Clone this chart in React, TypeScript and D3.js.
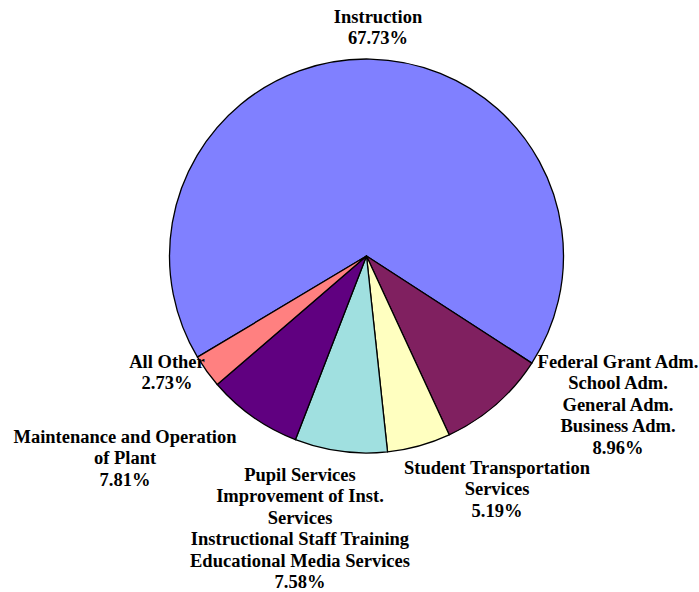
import React from "react";
import * as d3 from "d3";

const categories = [
  "Instruction",
  "Federal Grant Adm.",
  "Student Transportation",
  "Pupil Services",
  "Maintenance and Operation",
  "All Other",
];
const values = [67.73, 8.96, 5.19, 7.58, 7.81, 2.73];
const labelLines = [
  ["Instruction"],
  ["Federal Grant Adm.", "School Adm.", "General Adm.", "Business Adm."],
  ["Student Transportation", "Services"],
  ["Pupil Services", "Improvement of Inst.", "Services", "Instructional Staff Training", "Educational Media Services"],
  ["Maintenance and Operation", "of Plant"],
  ["All Other"],
];
const colors = ["#8080FF", "#802060", "#FFFFC0", "#A0E0E0", "#600080", "#FF8080"];

// label layout: center x, first baseline y (layout only)
const labelPos = [
  [378, 23],
  [618, 368],
  [497, 474],
  [300, 481],
  [125, 443],
  [167, 368],
];

const W = 699;
const H = 592;
const cx = 366.5;
const cy = 256;
const R = 197;
const lineH = 21.4;

export default function App() {
  const start = (-120.9 * Math.PI) / 180;
  const pie = d3
    .pie<number>()
    .sort(null)
    .value((d) => d)
    .startAngle(start)
    .endAngle(start + 2 * Math.PI);
  const arcs = pie(values);
  const arc = d3.arc<d3.PieArcDatum<number>>().innerRadius(0).outerRadius(R);

  return (
    <svg
      width={W}
      height={H}
      style={{ position: "absolute", left: 0, top: 0, background: "#fff" }}
    >
      <g transform={`translate(${cx},${cy})`}>
        {arcs.map((a, i) => (
          <path
            key={i}
            d={arc(a) || ""}
            fill={colors[i]}
            stroke="#000"
            strokeWidth={1.3}
            strokeLinejoin="round"
          />
        ))}
      </g>
      {categories.map((c, i) => {
        const lines = [...labelLines[i], `${values[i].toFixed(2)}%`];
        const [x, y] = labelPos[i];
        return (
          <text
            key={c}
            x={x}
            y={y}
            textAnchor="middle"
            style={{ fontFamily: "'Liberation Serif', serif", fontWeight: 700, fontSize: "18.5px" }}
            fill="#000"
          >
            {lines.map((l, j) => (
              <tspan key={j} x={x} y={y + j * lineH}>
                {l}
              </tspan>
            ))}
          </text>
        );
      })}
    </svg>
  );
}
